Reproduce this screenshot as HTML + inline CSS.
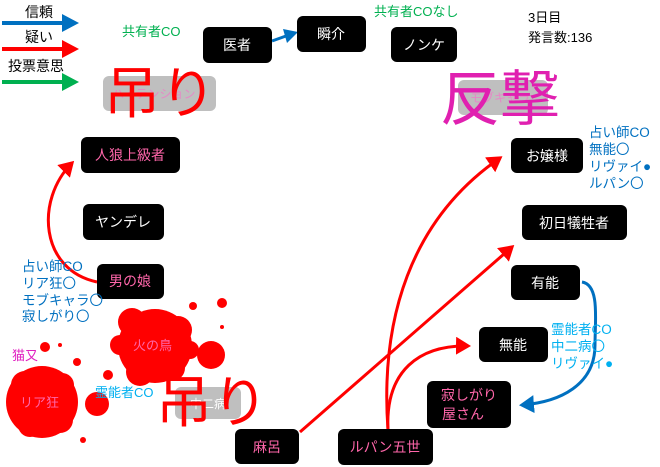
<!DOCTYPE html>
<html><head><meta charset="utf-8"><style>
html,body{margin:0;padding:0;background:#fff;}
svg{display:block;font-family:"Liberation Sans","Noto Sans CJK JP",sans-serif;}
</style></head><body>
<svg width="660" height="467" viewBox="0 0 660 467" xmlns="http://www.w3.org/2000/svg">
<defs>
<marker id="ar" markerWidth="6" markerHeight="6" refX="4" refY="3" orient="auto" markerUnits="strokeWidth"><path d="M0,0 L5,3 L0,6 z" fill="#ff0000"/></marker>
<marker id="ab" markerWidth="6" markerHeight="6" refX="4" refY="3" orient="auto" markerUnits="strokeWidth"><path d="M0,0 L5,3 L0,6 z" fill="#0070c0"/></marker>
</defs>
<!-- legend -->
<text x="25" y="17" font-size="14" fill="#000">信頼</text>
<line x1="2" y1="23" x2="64" y2="23" stroke="#0070c0" stroke-width="4"/>
<path d="M62,14 L79,23 L62,32 z" fill="#0070c0"/>
<text x="25" y="42" font-size="14" fill="#000">疑い</text>
<line x1="2" y1="49" x2="64" y2="49" stroke="#ff0000" stroke-width="4"/>
<path d="M62,40 L79,49 L62,58 z" fill="#ff0000"/>
<text x="8" y="71" font-size="14" fill="#000">投票意思</text>
<line x1="2" y1="82" x2="64" y2="82" stroke="#00b050" stroke-width="4"/>
<path d="M62,73 L79,82 L62,91 z" fill="#00b050"/>

<text x="122" y="36" font-size="13" fill="#00b050">共有者CO</text>
<text x="374" y="16" font-size="13" fill="#00b050">共有者COなし</text>
<text x="528" y="22" font-size="13" fill="#000">3日目</text>
<text x="528" y="42" font-size="13" fill="#000">発言数:136</text>

<!-- gray boxes -->
<rect x="103" y="76" width="113" height="35" rx="6" fill="#bfbfbf"/>
<text x="112" y="98" font-size="12" fill="#ff66cc" opacity="0.6">ハイテンション</text>
<rect x="458" y="80" width="90" height="35" rx="6" fill="#bfbfbf"/>
<text x="470" y="102" font-size="12" fill="#ff66cc" opacity="0.6">モブキャラ</text>
<rect x="175" y="387" width="66" height="32" rx="6" fill="#bfbfbf"/>
<text x="190" y="408" font-size="12" fill="#fff">中二病</text>

<!-- blood -->
<g fill="#ff0000">
<circle cx="155" cy="346" r="37"/><circle cx="132" cy="322" r="14"/><circle cx="178" cy="330" r="14"/><circle cx="140" cy="372" r="14"/><circle cx="172" cy="368" r="13"/><circle cx="120" cy="345" r="10"/><circle cx="190" cy="350" r="9"/>
<circle cx="211" cy="355" r="14"/><circle cx="193" cy="306" r="4"/><circle cx="222" cy="303" r="5"/><circle cx="222" cy="327" r="2"/><circle cx="108" cy="375" r="5"/>
<circle cx="42" cy="402" r="36"/><circle cx="25" cy="385" r="14"/><circle cx="62" cy="385" r="12"/><circle cx="30" cy="425" r="12"/><circle cx="60" cy="420" r="13"/>
<circle cx="97" cy="404" r="12"/><circle cx="45" cy="347" r="5"/><circle cx="77" cy="362" r="4"/><circle cx="83" cy="440" r="3"/><circle cx="60" cy="345" r="2"/>
</g>
<text x="133" y="350" font-size="13" fill="#ff66aa">火の鳥</text>
<text x="20" y="407" font-size="13" fill="#ff66aa">リア狂</text>
<text x="12" y="360" font-size="13" fill="#e020c0">猫又</text>
<text x="95" y="397" font-size="13" fill="#00b0f0">霊能者CO</text>

<!-- big labels -->
<text x="104" y="113" font-size="56" fill="#ff0000">吊り</text>
<text x="156" y="422" font-size="56" fill="#ff0000">吊り</text>
<text x="440" y="120" font-size="60" fill="#e020b0">反撃</text>

<!-- connectors -->
<line x1="272" y1="41" x2="286" y2="36" stroke="#0070c0" stroke-width="3"/>
<path d="M283,29 L298,32 L287,43 z" fill="#0070c0"/>
<path d="M97,282 C40,270 35,200 72,163" fill="none" stroke="#ff0000" stroke-width="3" marker-end="url(#ar)"/>
<line x1="300" y1="432" x2="512" y2="247" stroke="#ff0000" stroke-width="3" marker-end="url(#ar)"/>
<path d="M388,430 C380,320 410,220 500,158" fill="none" stroke="#ff0000" stroke-width="3" marker-end="url(#ar)"/>
<path d="M388,430 C385,370 420,345 468,346" fill="none" stroke="#ff0000" stroke-width="3" marker-end="url(#ar)"/>
<path d="M582,282 C600,285 595,320 595,345 C595,385 560,402 522,405" fill="none" stroke="#0070c0" stroke-width="3" marker-end="url(#ab)"/>

<!-- nodes -->
<g fill="#000">
<rect x="203" y="27" width="69" height="36" rx="6"/>
<rect x="297" y="16" width="69" height="36" rx="6"/>
<rect x="391" y="27" width="66" height="35" rx="6"/>
<rect x="81" y="137" width="99" height="36" rx="6"/>
<rect x="83" y="204" width="81" height="36" rx="6"/>
<rect x="97" y="264" width="67" height="35" rx="6"/>
<rect x="511" y="138" width="72" height="35" rx="6"/>
<rect x="522" y="205" width="105" height="35" rx="6"/>
<rect x="511" y="265" width="69" height="35" rx="6"/>
<rect x="479" y="327" width="69" height="35" rx="6"/>
<rect x="427" y="381" width="84" height="47" rx="6"/>
<rect x="235" y="429" width="64" height="35" rx="6"/>
<rect x="338" y="429" width="95" height="36" rx="6"/>
</g>
<g font-size="14" text-anchor="middle">
<text x="237" y="50" fill="#fff">医者</text>
<text x="331" y="39" fill="#fff">瞬介</text>
<text x="424" y="50" fill="#fff">ノンケ</text>
<text x="130" y="160" fill="#ff66aa">人狼上級者</text>
<text x="123" y="227" fill="#fff">ヤンデレ</text>
<text x="130" y="286" fill="#ff66aa">男の娘</text>
<text x="547" y="161" fill="#fff">お嬢様</text>
<text x="574" y="228" fill="#fff">初日犠牲者</text>
<text x="545" y="288" fill="#fff">有能</text>
<text x="513" y="350" fill="#fff">無能</text>
<text x="469" y="400" fill="#ff66aa">寂しがり</text>
<text x="463" y="419" fill="#ff66aa">屋さん</text>
<text x="267" y="452" fill="#ff66aa">麻呂</text>
<text x="385" y="452" fill="#ff66aa">ルパン五世</text>
</g>

<!-- annotations -->
<g font-size="13.5" fill="#0070c0">
<text x="22" y="271">占い師CO</text>
<text x="22" y="288">リア狂〇</text>
<text x="22" y="305">モブキャラ〇</text>
<text x="22" y="321">寂しがり〇</text>
<text x="589" y="137">占い師CO</text>
<text x="589" y="154">無能〇</text>
<text x="589" y="171">リヴァイ●</text>
<text x="589" y="188">ルパン〇</text>
</g>
<g font-size="13.5" fill="#00b0f0">
<text x="551" y="334">霊能者CO</text>
<text x="551" y="351">中二病〇</text>
<text x="551" y="368">リヴァイ●</text>
</g>
</svg>
</body></html>
